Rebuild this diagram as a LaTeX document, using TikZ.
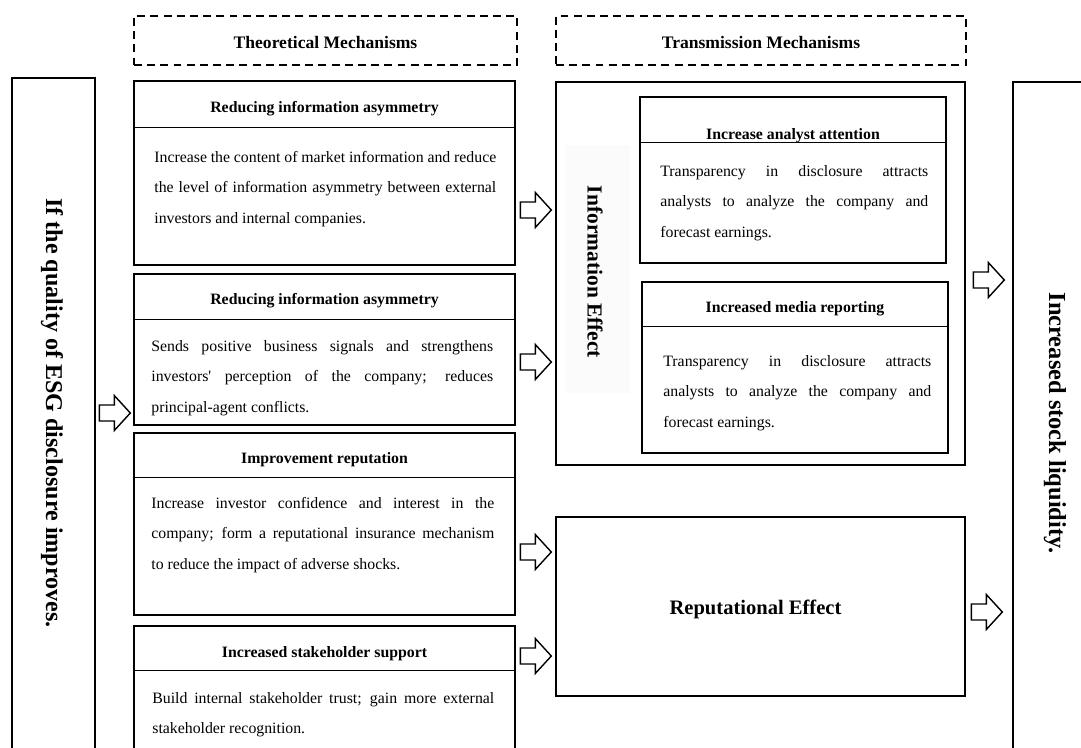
\documentclass[tikz,border=0pt]{standalone}
\usepackage{fontspec}
\setmainfont{Liberation Serif}
\usetikzlibrary{fit,calc}

\tikzset{
  frame/.style={draw, line width=0.8pt, inner sep=0pt},
  titlebox/.style={draw, dashed, dash pattern=on 4.5pt off 3pt, line width=0.8pt, inner sep=0pt},
  headtxt/.style={font=\fontsize{9}{11}\selectfont\bfseries, inner sep=0pt},
  bodytxt/.style={font=\fontsize{9}{17.5}\selectfont, align=justify, anchor=base west, inner sep=0pt},
  fatarr/.pic={\draw[line width=0.8pt, fill=white] (0,0) -- (-16,-17.5) -- (-16,-8) -- (-31,-8)
    -- (-31,8) -- (-16,8) -- (-16,17.5) -- cycle;}
}

\begin{document}
\begin{tikzpicture}[x=0.02cm, y=-0.02cm]
  \useasboundingbox (0,0) rectangle (1081,747);

  % Titles
  \node[titlebox, fit={(134,16) (517,65)}] (theo) {};
  \node[font=\fontsize{10}{12}\selectfont\bfseries] (theotxt) at ($(theo.center)+(0,2)$) {Theoretical Mechanisms};
  \node[titlebox, fit={(556,16) (966,65)}] (trans) {};
  \node[font=\fontsize{10}{12}\selectfont\bfseries] (transtxt) at ($(trans.center)+(0,2)$) {Transmission Mechanisms};

  % Cause and outcome
  \node[frame, fit={(12,78) (95,770)}] (esgbox) {};
  \node[rotate=-90, font=\fontsize{13.7}{15}\selectfont\bfseries] (esg) at (52,413) {If the quality of ESG disclosure improves.};
  \node[frame, fit={(1013,82) (1100,770)}] (liqbox) {};
  \node[rotate=-90, font=\fontsize{13.9}{15}\selectfont\bfseries] (liq) at (1055,423) {Increased stock liquidity.};

  % Theoretical mechanisms
  \node[frame, fit={(134,81) (515,265)}] (b1) {};
  \draw[line width=0.8pt] ($(b1.north west)+(0,47)$) -- ($(b1.north east)+(0,47)$);
  \node[headtxt] (h1) at ($(b1.north)+(0,28)$) {Reducing information asymmetry};
  \node[bodytxt, text width=6.84cm] (t1) at (154,162) {Increase the content of market information and reduce\linebreak
    the level of information asymmetry between external\linebreak investors and internal companies.};

  \node[frame, fit={(134,274) (515,425)}] (b2) {};
  \draw[line width=0.8pt] ($(b2.north west)+(0,46)$) -- ($(b2.north east)+(0,46)$);
  \node[headtxt] (h2) at ($(b2.north)+(0,27)$) {Reducing information asymmetry};
  \node[bodytxt, text width=6.84cm] (t2) at (151,351) {Sends positive business signals and strengthens\linebreak
    investors\textquotesingle{} perception of the company; reduces\linebreak principal-agent conflicts.};

  \node[frame, fit={(134,433) (515,615)}] (b3) {};
  \draw[line width=0.8pt] ($(b3.north west)+(0,45)$) -- ($(b3.north east)+(0,45)$);
  \node[headtxt] (h3) at ($(b3.north)+(0,27)$) {Improvement reputation};
  \node[bodytxt, text width=6.86cm] (t3) at (151,508) {Increase investor confidence and interest in the\linebreak
    company; form a reputational insurance mechanism\linebreak to reduce the impact of adverse shocks.};

  \node[frame, fit={(134,626) (515,770)}] (b4) {};
  \draw[line width=0.8pt] ($(b4.north west)+(0,45)$) -- ($(b4.north east)+(0,45)$);
  \node[headtxt] (h4) at ($(b4.north)+(0,28)$) {Increased stakeholder support};
  \node[bodytxt, text width=6.84cm] (t4) at (152,703) {Build internal stakeholder trust; gain more external\linebreak
    stakeholder recognition.};

  % Transmission mechanisms
  \node[frame, fit={(556,82) (965,465)}] (info) {};
  \fill[black!1.5] (565,145) rectangle (630,393);
  \node[rotate=-90, font=\fontsize{12.2}{14}\selectfont\bfseries] (infotxt) at (595,272) {Information Effect};

  \node[frame, fit={(640,97) (946,263)}] (ia) {};
  \draw[line width=0.8pt] ($(ia.north west)+(0,46)$) -- ($(ia.north east)+(0,46)$);
  \node[headtxt] (ha) at ($(ia.north)+(0,39)$) {Increase analyst attention};
  \node[bodytxt, text width=5.36cm] (ta) at (660,176) {Transparency in disclosure attracts\linebreak
    analysts to analyze the company and\linebreak forecast earnings.};

  \node[frame, fit={(642,282) (948,453)}] (ib) {};
  \draw[line width=0.8pt] ($(ib.north west)+(0,45)$) -- ($(ib.north east)+(0,45)$);
  \node[headtxt] (hb) at ($(ib.north)+(0,27)$) {Increased media reporting};
  \node[bodytxt, text width=5.36cm] (tb) at (663,366) {Transparency in disclosure attracts\linebreak
    analysts to analyze the company and\linebreak forecast earnings.};

  \node[frame, fit={(556,517) (965,696)}] (rep) {};
  \node[font=\fontsize{11.7}{14}\selectfont\bfseries] (reptxt) at ($(rep.center)+(-5,3)$) {Reputational Effect};

  % Block arrows
  \pic at ($(b2.west |- esg)+(-3,0)$) {fatarr};
  \pic at ($(info.west |- 0,210)+(-4,0)$) {fatarr};
  \pic at ($(info.west |- 0,362)+(-4,0)$) {fatarr};
  \pic at ($(rep.west |- 0,552)+(-4,0)$) {fatarr};
  \pic at ($(rep.west |- 0,656)+(-4,0)$) {fatarr};
  \pic at ($(liqbox.west |- 0,280)+(-8,0)$) {fatarr};
  \pic at ($(liqbox.west |- 0,612)+(-10,0)$) {fatarr};
\end{tikzpicture}
\end{document}
